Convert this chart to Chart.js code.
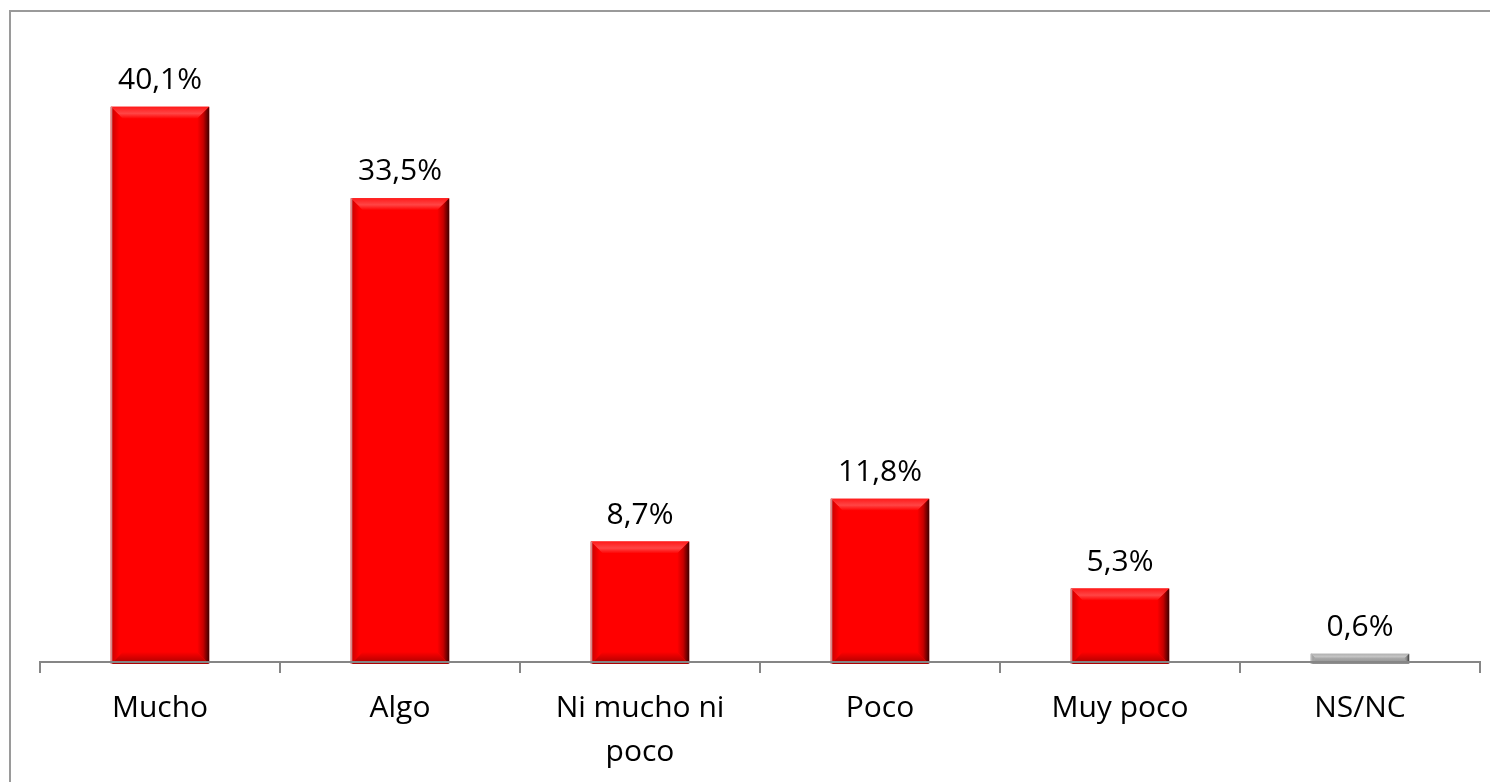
<!DOCTYPE html>
<html>
<head>
<meta charset="utf-8">
<script src="https://cdn.jsdelivr.net/npm/chart.js@4/dist/chart.umd.min.js"></script>
<style>
  html, body { margin: 0; padding: 0; background: #ffffff; }
  #wrap { position: relative; width: 1490px; height: 782px; overflow: hidden; }
  #frame { position: absolute; left: 9px; top: 10px; width: 1600px; height: 900px;
           border-left: 2px solid #9a9a9a; border-top: 2px solid #9a9a9a; pointer-events: none; }
  canvas { position: absolute; left: 0; top: 0; }
</style>
</head>
<body>
<div id="wrap">
  <canvas id="c" width="1490" height="782"></canvas>
  <div id="frame"></div>
</div>
<script>
const categories = [["Mucho"], ["Algo"], ["Ni mucho ni", "poco"], ["Poco"], ["Muy poco"], ["NS/NC"]];
const values = [40.1, 33.5, 8.7, 11.8, 5.3, 0.6];
const barKinds = ["red", "red", "red", "red", "red", "gray"];
const yMax = 45;

const palettes = {
  red:  { base: "#ff0000", light: "#ff4545", lightEdge: "#ff1a1a", dark: "#3c0000", mid: "#c80000", bottom: "#a80000", left: "#c40000", outline: "#d08a8a" },
  gray: { base: "#a6a6a6", light: "#c4c4c4", lightEdge: "#b0b0b0", dark: "#3a3a3a", mid: "#8a8a8a", bottom: "#8c8c8c", left: "#9a9a9a", outline: "#b8b8b8" }
};

function fmt(v) { return v.toFixed(1).replace(".", ",") + "%"; }

const bevelPlugin = {
  id: "bevel",
  afterDatasetsDraw(chart) {
    const ctx = chart.ctx;
    const meta = chart.getDatasetMeta(0);
    meta.data.forEach((bar, i) => {
      const p = bar.getProps(["x", "y", "width", "base"], true);
      const pal = palettes[barKinds[i]];
      const l = p.x - p.width / 2, r = p.x + p.width / 2, t = p.y, b = p.base + 2;
      const h = b - t;
      const bv = Math.min(12, h / 2);
      ctx.save();
      // top light band
      let g = ctx.createLinearGradient(0, t, 0, t + bv);
      g.addColorStop(0, pal.lightEdge);
      g.addColorStop(0.55, pal.light);
      g.addColorStop(1, pal.base);
      ctx.fillStyle = g;
      ctx.beginPath();
      ctx.moveTo(l, t); ctx.lineTo(r, t); ctx.lineTo(r - bv, t + bv); ctx.lineTo(l + bv, t + bv); ctx.closePath(); ctx.fill();
      // bottom dark band
      g = ctx.createLinearGradient(0, b - bv, 0, b);
      g.addColorStop(0, pal.base);
      g.addColorStop(1, pal.bottom);
      ctx.fillStyle = g;
      ctx.beginPath();
      ctx.moveTo(l, b); ctx.lineTo(r, b); ctx.lineTo(r - bv, b - bv); ctx.lineTo(l + bv, b - bv); ctx.closePath(); ctx.fill();
      // left band
      g = ctx.createLinearGradient(l, 0, l + bv * 0.7, 0);
      g.addColorStop(0, pal.left);
      g.addColorStop(1, pal.base);
      ctx.fillStyle = g;
      ctx.beginPath();
      ctx.moveTo(l, t); ctx.lineTo(l + bv * 0.7, t + bv * 0.7); ctx.lineTo(l + bv * 0.7, b - bv * 0.7); ctx.lineTo(l, b); ctx.closePath(); ctx.fill();
      // right dark band
      g = ctx.createLinearGradient(r - bv, 0, r, 0);
      g.addColorStop(0, pal.base);
      g.addColorStop(0.5, pal.mid);
      g.addColorStop(1, pal.dark);
      ctx.fillStyle = g;
      ctx.beginPath();
      ctx.moveTo(r, t); ctx.lineTo(r, b); ctx.lineTo(r - bv, b - bv); ctx.lineTo(r - bv, t + bv); ctx.closePath(); ctx.fill();
      // thin outline on left
      ctx.fillStyle = pal.outline;
      ctx.fillRect(l, t, 1.5, h);
      ctx.restore();
    });
    // re-draw axis line over bars
    const xs = chart.scales.x;
    ctx.save();
    ctx.strokeStyle = "#868686";
    ctx.lineWidth = 2;
    ctx.beginPath();
    ctx.moveTo(xs.left, xs.top);
    ctx.lineTo(xs.right, xs.top);
    ctx.stroke();
    ctx.restore();
    // value labels
    ctx.save();
    ctx.fillStyle = "#000000";
    ctx.font = "30px 'Open Sans'";
    ctx.textAlign = "center";
    ctx.textBaseline = "alphabetic";
    meta.data.forEach((bar, i) => {
      const p = bar.getProps(["x", "y"], true);
      ctx.fillText(fmt(values[i]), p.x, p.y - 18);
    });
    ctx.restore();
  }
};

new Chart(document.getElementById("c"), {
  type: "bar",
  data: {
    labels: categories,
    datasets: [{
      data: values,
      backgroundColor: barKinds.map(k => palettes[k].base),
      borderWidth: 0,
      barPercentage: 0.41,
      categoryPercentage: 1.0
    }]
  },
  options: {
    responsive: false,
    animation: false,
    devicePixelRatio: 1,
    layout: { padding: { left: 40, right: 10, top: 39, bottom: 0 } },
    plugins: { legend: { display: false }, tooltip: { enabled: false }, title: { display: false } },
    scales: {
      y: { display: false, min: 0, max: yMax },
      x: {
        afterFit(scale) { scale.height = 120; },
        border: { display: true, color: "#868686", width: 2 },
        grid: { display: true, offset: true, drawOnChartArea: false, drawTicks: true, tickLength: 11, color: "#868686", lineWidth: 2 },
        ticks: { color: "#000000", padding: 14, maxRotation: 0, autoSkip: false,
                 font: { family: "'Open Sans'", size: 30, lineHeight: 1.45 } }
      }
    }
  },
  plugins: [bevelPlugin]
});
</script>
</body>
</html>
